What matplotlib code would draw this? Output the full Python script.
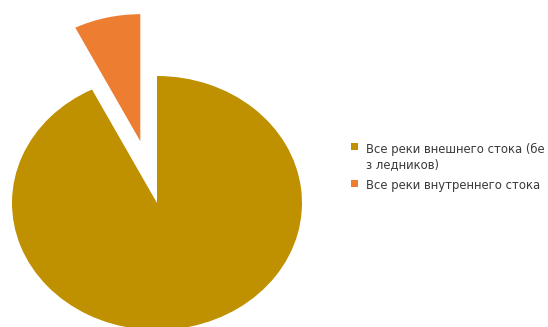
import matplotlib
matplotlib.use("Agg")
import matplotlib.pyplot as plt
from matplotlib.patches import Rectangle
from matplotlib.transforms import Affine2D

labels = ["Все реки внешнего стока (бе\nз ледников)", "Все реки внутреннего стока"]
values = [92.6, 7.4]
colors = ["#BF9000", "#ED7D31"]
explode = [0.0, 0.5]

W, H = 548, 327
fig = plt.figure(figsize=(W / 100, H / 100), dpi=100)
ax = fig.add_axes([0, 0, 1, 1])
wedges, _ = ax.pie(values, colors=colors, explode=explode, startangle=90,
                   counterclock=False, radius=1.0,
                   wedgeprops=dict(linewidth=0))
cx, cy, rx, ry = 157, 124, 145, 127
ax.set_aspect("auto")
ax.set_xlim(-cx / rx, (W - cx) / rx)
ax.set_ylim(-cy / ry, (H - cy) / ry)
ax.axis("off")

# legend drawn in pixel coordinates (y measured from top)
pix = Affine2D().scale(1 / W, -1 / H).translate(0, 1) + fig.transFigure
square_tops = [143, 180]
text_tops = [142.5, 179.5]
for lab, col, sq, tt in zip(labels, colors, square_tops, text_tops):
    fig.patches.append(Rectangle((351, sq + 7), 7, -7, transform=pix,
                                 facecolor=col, edgecolor="none"))
    fig.text(366, tt, lab, transform=pix, va="top", ha="left",
             fontsize=8.4, color="#3a3a3a", linespacing=1.3)
fig.savefig("out.png", dpi=100)
